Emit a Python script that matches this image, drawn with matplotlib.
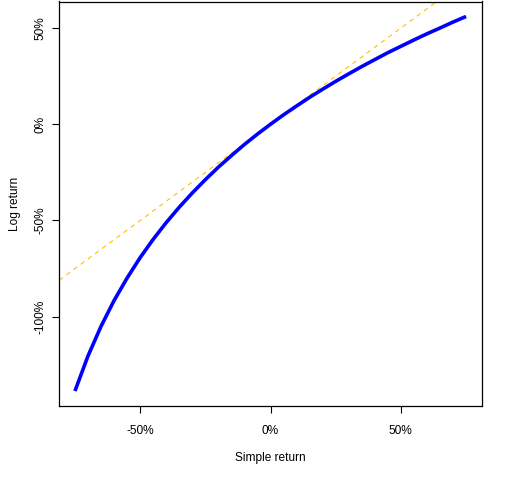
import matplotlib

matplotlib.use("Agg")
import matplotlib.pyplot as plt
from matplotlib.ticker import FuncFormatter

plt.rcParams["font.family"] = ["Liberation Sans", "DejaVu Sans"]

# simple return vs log return
simple_ret = [-0.75, -0.70, -0.65, -0.60, -0.55, -0.50, -0.45, -0.40, -0.35, -0.30,
              -0.25, -0.20, -0.15, -0.10, -0.05, 0.00, 0.05, 0.10, 0.15, 0.20,
              0.25, 0.30, 0.35, 0.40, 0.45, 0.50, 0.55, 0.60, 0.65, 0.70, 0.75]
log_ret = [-1.386, -1.204, -1.050, -0.916, -0.799, -0.693, -0.598, -0.511, -0.431, -0.357,
           -0.288, -0.223, -0.163, -0.105, -0.051, 0.000, 0.049, 0.095, 0.140, 0.182,
           0.223, 0.262, 0.300, 0.336, 0.372, 0.405, 0.438, 0.470, 0.500, 0.531, 0.560]
x_ticks = [-0.5, 0.0, 0.5]
y_ticks = [-1.0, -0.5, 0.0, 0.5]

FS = 8.6

fig = plt.figure(figsize=(5.12, 4.8), dpi=100)
ax = fig.add_axes([59.3 / 512, 1 - 406 / 480, (481.7 - 59.3) / 512, (406 - 1.5) / 480])

ax.axline((0, 0), slope=1, color="#FFC000", lw=0.8, dashes=(4, 4), zorder=1)
ax.plot(simple_ret, log_ret, color="#0000FF", lw=2.6, solid_capstyle="butt", zorder=2)

xpad = 0.04 * (max(simple_ret) - min(simple_ret))
ypad = 0.04 * (max(log_ret) - min(log_ret))
ax.set_xlim(min(simple_ret) - xpad, max(simple_ret) + xpad)
ax.set_ylim(min(log_ret) - ypad, max(log_ret) + ypad)

pct = FuncFormatter(lambda v, _: f"{v * 100:.0f}%")
ax.set_xticks(x_ticks)
ax.set_yticks(y_ticks)
ax.xaxis.set_major_formatter(pct)
ax.yaxis.set_major_formatter(pct)
ax.tick_params(direction="out", length=5, width=0.8, labelsize=FS, colors="black")
ax.tick_params(axis="x", pad=8.5)
ax.tick_params(axis="y", pad=4)
for lab in ax.get_yticklabels():
    lab.set_rotation(90)
    lab.set_va("center")
for sp in ax.spines.values():
    sp.set_linewidth(0.9)

ax.set_xlabel("Simple return", fontsize=FS, labelpad=11)
ax.set_ylabel("Log return", fontsize=FS, labelpad=10)

fig.savefig("out.png", dpi=100, facecolor="white")
